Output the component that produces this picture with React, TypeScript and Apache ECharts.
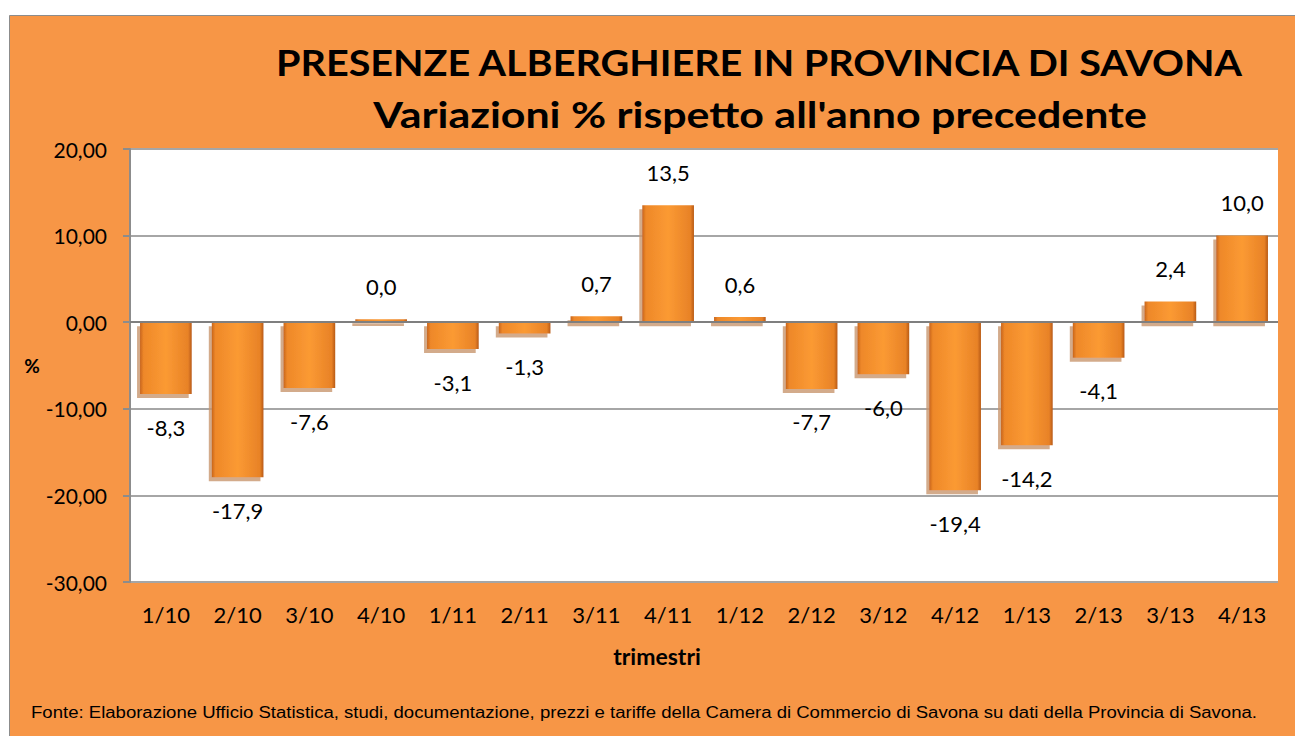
import React, { useEffect, useRef } from "react";
import * as echarts from "echarts";

const categories = ["1/10", "2/10", "3/10", "4/10", "1/11", "2/11", "3/11", "4/11", "1/12", "2/12", "3/12", "4/12", "1/13", "2/13", "3/13", "4/13"];
const variations = [-8.3, -17.9, -7.6, 0.0, -3.1, -1.3, 0.7, 13.5, 0.6, -7.7, -6.0, -19.4, -14.2, -4.1, 2.4, 10.0];
const yTicks = { min: -30, max: 20, interval: 10 };
const titleLines = ["PRESENZE ALBERGHIERE IN PROVINCIA DI SAVONA", "Variazioni % rispetto all'anno precedente"];
const sourceNote = "Fonte: Elaborazione Ufficio Statistica, studi, documentazione, prezzi e tariffe della Camera di Commercio di Savona su dati della Provincia di Savona.";

const fmt1 = (v: number) => v.toFixed(1).replace(".", ",");
const fmt2 = (v: number) => v.toFixed(2).replace(".", ",");

export default function App() {
  const ref = useRef<HTMLDivElement>(null);
  useEffect(() => {
    if (!ref.current) return;
    const chart = echarts.init(ref.current, null, { renderer: "svg" });
    const barFill = new echarts.graphic.LinearGradient(0, 0, 1, 0, [
      { offset: 0, color: "#C8651C" },
      { offset: 0.07, color: "#EE8829" },
      { offset: 0.5, color: "#FB9A33" },
      { offset: 0.93, color: "#E88227" },
      { offset: 1, color: "#B85A16" },
    ]);
    chart.setOption({
      animation: false,
      backgroundColor: "#ffffff",
      graphic: [
        {
          type: "rect",
          shape: { x: 9.5, y: 15.5, width: 1290, height: 730 },
          style: { fill: "#F79646", stroke: "#8C8C8C", lineWidth: 1 },
          z: -10,
          silent: true,
        },
        {
          type: "text",
          x: 759,
          y: 62,
          scaleX: 1.07,
          style: { text: titleLines[0], fontFamily: "Lato", fontWeight: "bold", fontSize: 37, fill: "#000", align: "center", verticalAlign: "middle" },
        },
        {
          type: "text",
          x: 760,
          y: 114,
          scaleX: 1.16,
          style: { text: titleLines[1], fontFamily: "Lato", fontWeight: "bold", fontSize: 37, fill: "#000", align: "center", verticalAlign: "middle" },
        },
        {
          type: "text",
          x: 644,
          y: 712,
          scaleX: 1.16,
          style: { text: sourceNote, fontFamily: "Liberation Sans", fontSize: 16, fill: "#000", align: "center", verticalAlign: "middle" },
        },
      ],
      grid: { left: 130, right: 17, top: 149, bottom: 154, backgroundColor: "#ffffff", show: true, borderWidth: 0 },
      xAxis: {
        type: "category",
        data: categories,
        name: "trimestri",
        nameLocation: "middle",
        nameGap: 62,
        nameTextStyle: { fontFamily: "Lato", fontWeight: "bold", fontSize: 23, color: "#000", padding: [0, 94, 0, 0] },
        axisLine: { show: false, onZero: false },
        axisTick: { show: false },
        axisLabel: { fontFamily: "Lato", fontSize: 22, color: "#000", margin: 21 },
      },
      yAxis: {
        type: "value",
        min: yTicks.min,
        max: yTicks.max,
        interval: yTicks.interval,
        name: "%",
        nameLocation: "middle",
        nameRotate: 0,
        nameGap: 88,
        nameTextStyle: { fontFamily: "Lato", fontWeight: "bold", fontSize: 19, color: "#000" },
        axisLine: { show: true, lineStyle: { color: "#8C8C8C", width: 2 } },
        axisTick: { show: true, length: 7, lineStyle: { color: "#8C8C8C", width: 2 } },
        splitLine: { show: true, lineStyle: { color: "#A6A6A6", width: 2 } },
        axisLabel: { fontFamily: "Lato", fontSize: 21, color: "#000", margin: 23, formatter: (v: number) => fmt2(v) },
      },
      series: [
        {
          type: "bar",
          data: variations.map((v) => ({
            value: v,
            label: { position: v < 0 ? "bottom" : "top" },
          })),
          barCategoryGap: "28%",
          barMinHeight: 3,
          itemStyle: {
            color: barFill,
            shadowColor: "rgba(200,150,110,0.8)",
            shadowOffsetX: -3,
            shadowOffsetY: 4,
            shadowBlur: 0,
          },
          label: {
            show: true,
            distance: 22,
            fontFamily: "Lato",
            fontSize: 22,
            color: "#000",
            formatter: (p: any) => fmt1(p.value),
          },
          markLine: {
            silent: true,
            symbol: "none",
            label: { show: false },
            lineStyle: { color: "#7F7F7F", width: 2, type: "solid" },
            data: [{ yAxis: 0 }],
          },
        },
      ],
    });
    return () => chart.dispose();
  }, []);
  return <div ref={ref} style={{ position: "absolute", left: 0, top: 0, width: 1295, height: 736 }} />;
}
